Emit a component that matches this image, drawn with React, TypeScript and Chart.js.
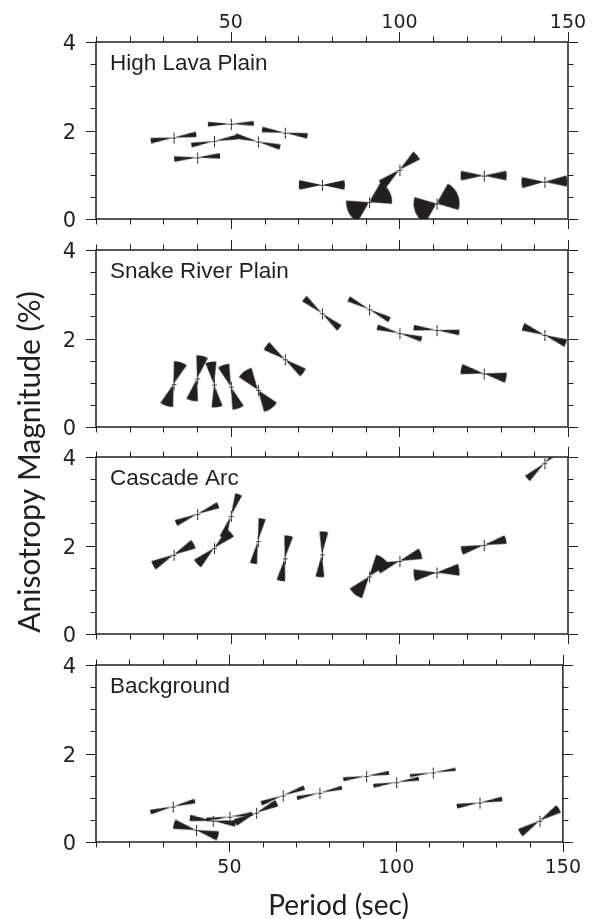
import React, { useEffect, useRef } from 'react';
import { Chart, registerables } from 'chart.js';

Chart.register(...registerables);

// ---------------- data ----------------
const periods = [33, 40, 45, 50, 58, 66, 77, 91, 100, 111, 125, 143];

const panelNames = ['High Lava Plain', 'Snake River Plain', 'Cascade Arc', 'Background'];

// anisotropy magnitude (%)
const highLavaMagnitude = [1.84, 1.39, 1.76, 2.15, 1.75, 1.95, 0.77, 0.38, 1.11, 0.35, 0.98, 0.84];
const snakeRiverMagnitude = [0.97, 1.1, 0.96, 0.91, 0.84, 1.53, 2.57, 2.66, 2.12, 2.19, 1.21, 2.08];
const cascadeMagnitude = [1.79, 2.71, 1.94, 2.67, 2.1, 1.71, 1.8, 1.3, 1.65, 1.39, 2.01, 3.86];
const backgroundMagnitude = [0.8, 0.27, 0.48, 0.57, 0.66, 1.05, 1.11, 1.49, 1.35, 1.57, 0.89, 0.48];

// fast-axis azimuth (degrees clockwise from north / up)
const highLavaAzimuth = [82, 86, 80, 89, 104, 98, 90, 62, 50, 68, 90, 88];
const snakeRiverAzimuth = [18, 13, 172, 161, 144, 126, 130, 117, 105, 96, 101, 111];
const cascadeAzimuth = [62, 67, 47, 20, 11, 10, 5, 38, 71, 83, 76, 48];
const backgroundAzimuth = [76, 105, 97, 83, 65, 70, 77, 82, 81, 82, 81, 58];

// azimuth uncertainty (half width of each wedge, degrees)
const highLavaSpread = [7, 7, 6, 6, 7, 7, 12, 32, 13, 38, 12, 14];
const snakeRiverSpread = [17, 15, 14, 15, 20, 12, 9, 7, 7, 7, 13, 10];
const cascadeSpread = [12, 8, 13, 9, 9, 11, 11, 20, 14, 15, 11, 9];
const backgroundSpread = [6, 12, 8, 5, 9, 6, 5, 5, 5, 4, 6, 11];

const xTickLabels = [50, 100, 150];
const yTickLabels = [0, 2, 4];
const xAxisTitle = 'Period (sec)';
const yAxisTitle = 'Anisotropy Magnitude (%)';

const panels = [
  { name: panelNames[0], mag: highLavaMagnitude, az: highLavaAzimuth, spread: highLavaSpread },
  { name: panelNames[1], mag: snakeRiverMagnitude, az: snakeRiverAzimuth, spread: snakeRiverSpread },
  { name: panelNames[2], mag: cascadeMagnitude, az: cascadeAzimuth, spread: cascadeSpread },
  { name: panelNames[3], mag: backgroundMagnitude, az: backgroundAzimuth, spread: backgroundSpread },
];

// ---------------- layout / style ----------------
const W = 596;
const H = 919;
const AREA_LEFT = 96;
const AREA_RIGHT = 568;
const PANEL_TOPS = [42, 250, 457, 665];
const PANEL_H = 177;
const INK = '#231f20';
const GLYPH_R = 23;
const TICK_FONT = '"DejaVu Sans", "Liberation Sans", Arial, sans-serif';
const TITLE_FONT = 'Lato, "Open Sans", "Liberation Sans", sans-serif';
const LABEL_FONT = '"Liberation Sans", Arial, Helvetica, sans-serif';

function makeBowtie(halfDeg: number): HTMLCanvasElement {
  const size = 52;
  const c = document.createElement('canvas');
  c.width = size;
  c.height = size;
  const g = c.getContext('2d') as CanvasRenderingContext2D;
  const cx = size / 2;
  const cy = size / 2;
  const h = (halfDeg * Math.PI) / 180;
  g.fillStyle = INK;
  for (const dir of [-Math.PI / 2, Math.PI / 2]) {
    g.beginPath();
    g.moveTo(cx, cy);
    g.arc(cx, cy, GLYPH_R, dir - h, dir + h);
    g.closePath();
    g.fill();
  }
  return c;
}

function makeCross(): HTMLCanvasElement {
  const size = 16;
  const c = document.createElement('canvas');
  c.width = size;
  c.height = size;
  const g = c.getContext('2d') as CanvasRenderingContext2D;
  const m = size / 2;
  const path = () => {
    g.beginPath();
    g.moveTo(m + 0.5, m - 5);
    g.lineTo(m + 0.5, m + 6);
    g.moveTo(m - 2, m + 0.5);
    g.lineTo(m + 3, m + 0.5);
  };
  g.strokeStyle = 'rgba(255,255,255,0.35)';
  g.lineWidth = 2;
  path();
  g.stroke();
  g.strokeStyle = INK;
  g.lineWidth = 1;
  path();
  g.stroke();
  g.strokeStyle = 'rgba(255,255,255,0.75)';
  g.lineWidth = 0.7;
  g.beginPath();
  g.arc(m + 0.5, m + 0.5, 1.6, 0, Math.PI * 2);
  g.stroke();
  return c;
}

function makeFramePlugin(name: string, withTitles: boolean) {
  return {
    id: 'frameTicks',
    afterDatasetsDraw(chart: any) {
      const { ctx, chartArea: a, scales } = chart;
      const xs = scales.x;
      const ys = scales.y;
      ctx.save();
      ctx.strokeStyle = INK;
      ctx.lineWidth = 1;
      ctx.beginPath();
      for (let v = xs.min; v <= xs.max + 1e-6; v += 10) {
        const px = Math.round(xs.getPixelForValue(v)) + 0.5;
        const len = xTickLabels.includes(v) ? 10 : 5.5;
        ctx.moveTo(px, a.top);
        ctx.lineTo(px, a.top - len);
        ctx.moveTo(px, a.bottom);
        ctx.lineTo(px, a.bottom + len);
      }
      for (let v = ys.min; v <= ys.max + 1e-6; v += 0.5) {
        const py = Math.round(ys.getPixelForValue(v)) + 0.5;
        const len = yTickLabels.includes(v) ? 10 : 5.5;
        ctx.moveTo(a.left, py);
        ctx.lineTo(a.left - len, py);
        ctx.moveTo(a.right, py);
        ctx.lineTo(a.right + len, py);
      }
      ctx.stroke();
      ctx.lineWidth = 1.5;
      ctx.strokeRect(a.left, a.top, a.right - a.left, a.bottom - a.top);

      ctx.fillStyle = INK;
      ctx.font = `22.5px ${LABEL_FONT}`;
      ctx.textAlign = 'left';
      ctx.textBaseline = 'alphabetic';
      ctx.fillText(name, a.left + 14, a.top + 28);

      if (withTitles) {
        ctx.font = `28px ${TITLE_FONT}`;
        ctx.textAlign = 'center';
        ctx.textBaseline = 'alphabetic';
        ctx.fillText(xAxisTitle, 338.5, 915);
        ctx.save();
        ctx.translate(40, 462);
        ctx.rotate(-Math.PI / 2);
        ctx.font = `30px ${TITLE_FONT}`;
        ctx.fillText(yAxisTitle, 0, 0);
        ctx.restore();
      }
      ctx.restore();
    },
  };
}

function Panel({ index }: { index: number }) {
  const ref = useRef<HTMLCanvasElement | null>(null);
  useEffect(() => {
    const p = panels[index];
    const top = PANEL_TOPS[index];
    const bottom = top + PANEL_H;
    const glyphs = p.spread.map((s) => makeBowtie(s));
    const cross = makeCross();
    const points = periods.map((x, i) => ({ x, y: p.mag[i] }));
    const isTop = index === 0;
    const isBottom = index === panels.length - 1;
    const xShown = isTop || isBottom;
    const xBox = isTop ? top : isBottom ? H - bottom : 0;

    const chart = new Chart(ref.current as HTMLCanvasElement, {
      type: 'scatter',
      data: {
        datasets: [
          {
            data: points,
            order: 0,
            pointStyle: cross,
            pointRadius: 6,
            pointRotation: 0,
            clip: 0,
          } as any,
          {
            data: points,
            order: 1,
            pointStyle: glyphs,
            pointRotation: p.az,
            pointRadius: 10,
            clip: 0,
          } as any,
        ],
      },
      options: {
        responsive: false,
        maintainAspectRatio: false,
        devicePixelRatio: 1,
        animation: false,
        events: [],
        layout: {
          padding: {
            left: 0,
            right: W - AREA_RIGHT,
            top: isTop ? 0 : top,
            bottom: isBottom ? 0 : H - bottom,
          },
        },
        plugins: {
          legend: { display: false },
          tooltip: { enabled: false },
          title: { display: false },
        },
        scales: {
          x: {
            type: 'linear',
            position: isTop ? 'top' : 'bottom',
            min: 10,
            max: 150,
            display: xShown,
            afterFit: (s: any) => {
              s.height = xBox;
            },
            afterBuildTicks: (s: any) => {
              s.ticks = xTickLabels.map((v) => ({ value: v }));
            },
            grid: { display: false, drawTicks: false },
            border: { display: false },
            ticks: {
              autoSkip: false,
              maxRotation: 0,
              padding: isTop ? 8 : 15,
              color: INK,
              font: { family: TICK_FONT, size: 19 },
            },
          },
          y: {
            type: 'linear',
            position: 'left',
            min: 0,
            max: 4,
            afterFit: (s: any) => {
              s.width = AREA_LEFT;
            },
            afterBuildTicks: (s: any) => {
              s.ticks = yTickLabels.map((v) => ({ value: v }));
            },
            grid: { display: false, drawTicks: false },
            border: { display: false },
            ticks: {
              autoSkip: false,
              padding: 20,
              labelOffset: 3,
              color: INK,
              font: { family: TICK_FONT, size: 21 },
            },
          },
        } as any,
      },
      plugins: [makeFramePlugin(p.name, isBottom)],
    });
    return () => chart.destroy();
  }, [index]);
  return (
    <canvas
      ref={ref}
      width={W}
      height={H}
      style={{ position: 'absolute', left: 0, top: 0, width: W, height: H }}
    />
  );
}

export default function App() {
  return (
    <div style={{ position: 'absolute', left: 0, top: 0, width: W, height: H, background: '#ffffff' }}>
      {panels.map((_, i) => (
        <Panel key={i} index={i} />
      ))}
    </div>
  );
}
